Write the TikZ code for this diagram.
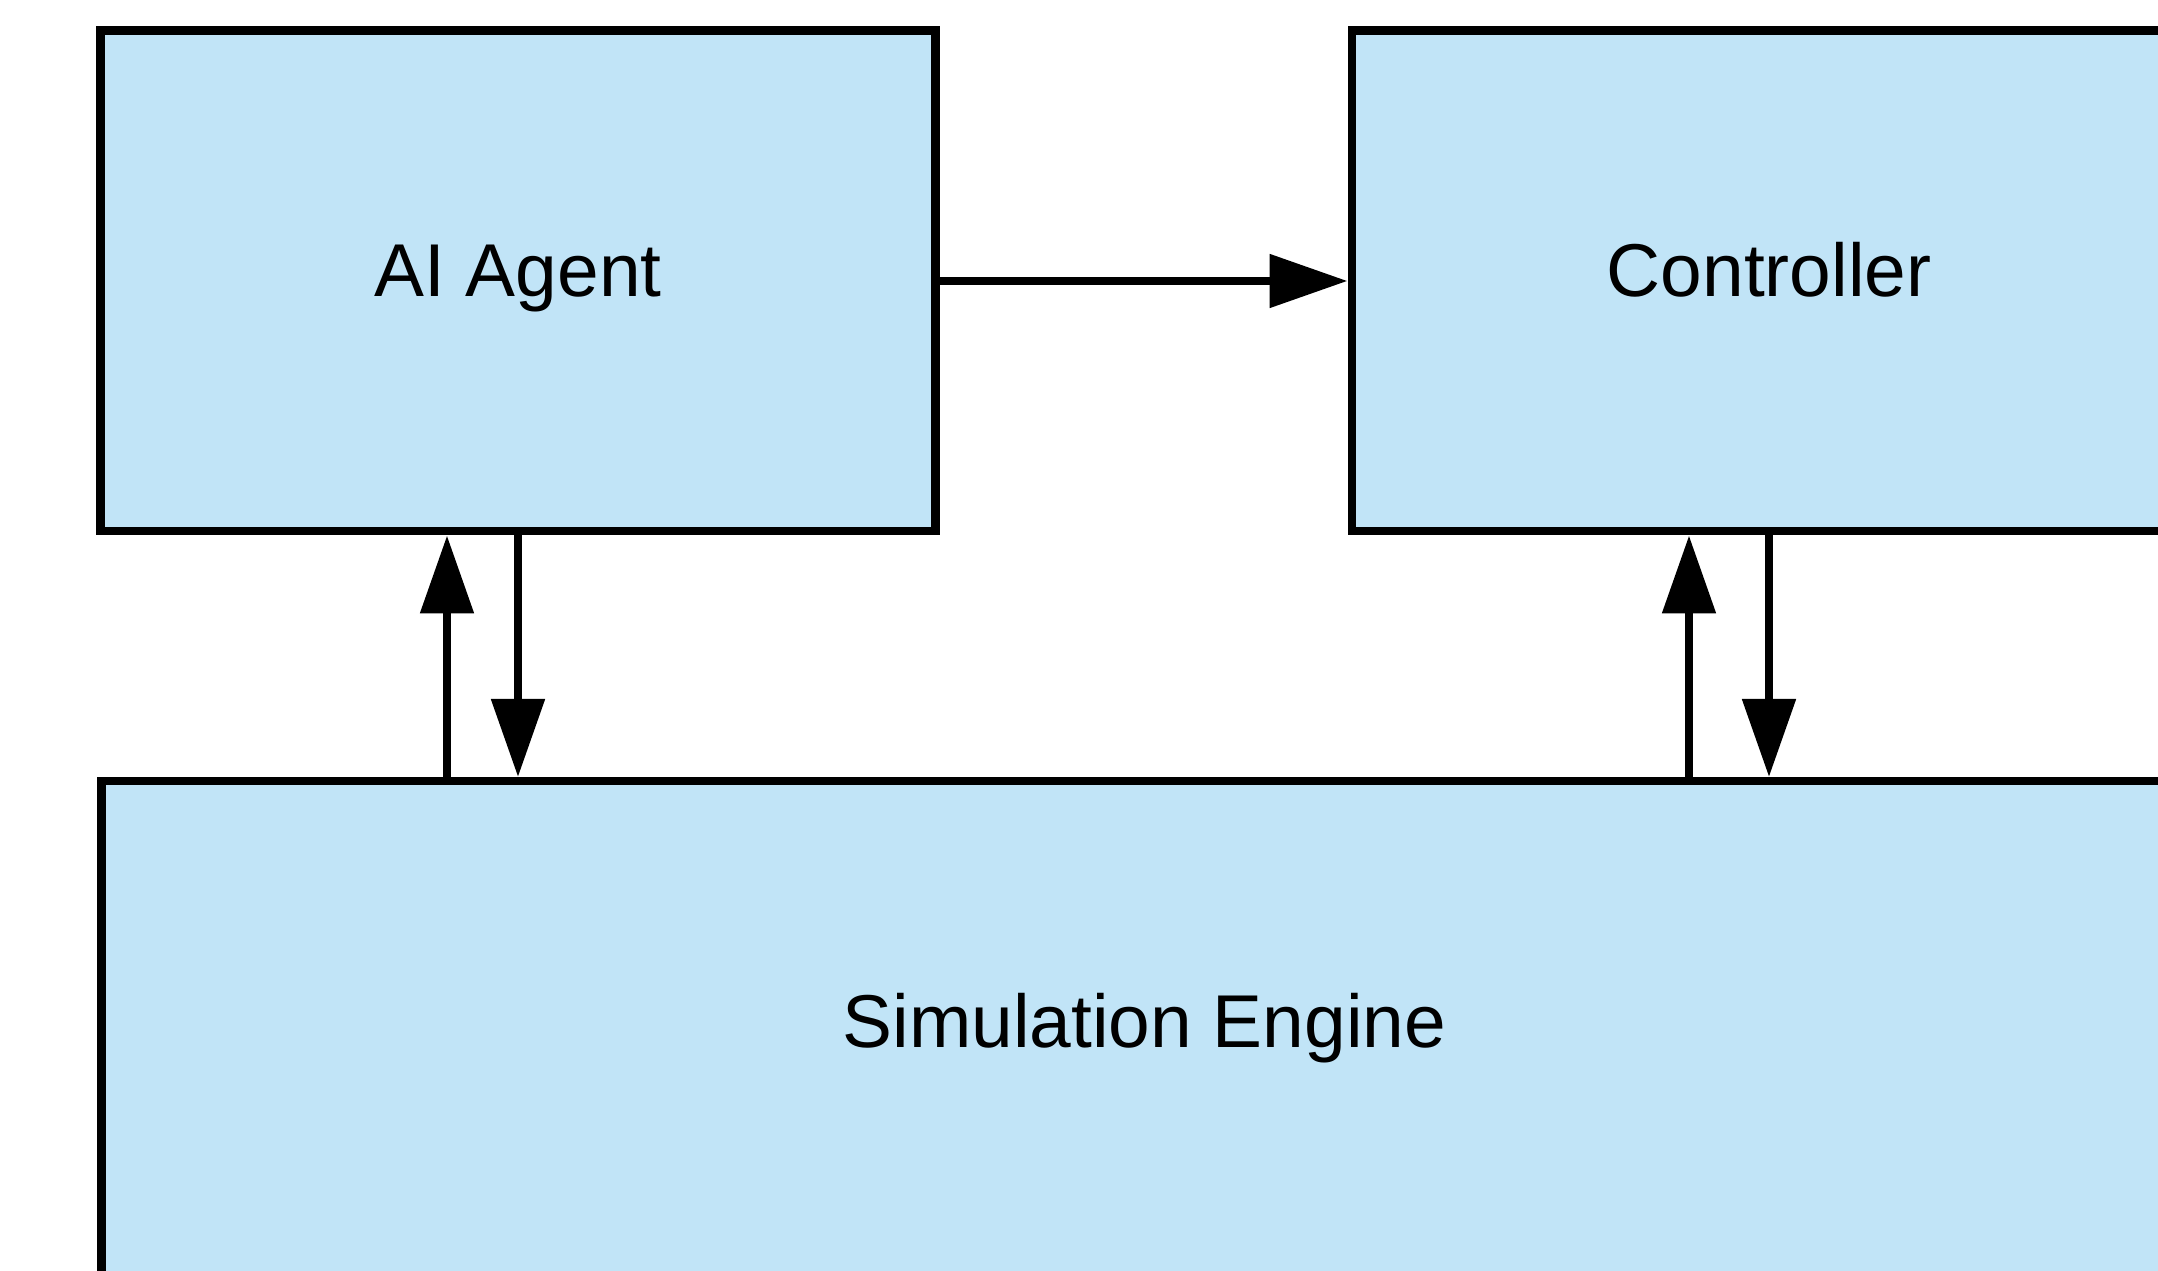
\documentclass[tikz,border=0pt]{standalone}
\usepackage{fontspec}
\setmainfont{Liberation Sans}
\usepackage{tikz}
\usetikzlibrary{arrows.meta,positioning}
\definecolor{boxblue}{RGB}{193,228,247}
\tikzset{
  block/.style={
    draw,
    fill=boxblue,
    line width=0.085cm,
    shape=rectangle,
    inner sep=0pt,
    minimum width=8.345cm,
    minimum height=5.005cm,
    text height=0.32cm,
    text depth=0cm,
    font=\fontsize{21.3pt}{25pt}\selectfont
  },
  flow/.style={
    line width=0.085cm,
    -{Triangle[length=0.78cm,width=0.52cm]}
  }
}

\begin{document}
\begin{tikzpicture}
  \clip (0,0) rectangle (21.58,-12.71);
  \fill[white] (0,0) rectangle (21.58,-12.71);
  \node[block] (ai) at (5.18,-2.81) {AI Agent};
  \node[block, right=4.08cm of ai] (ctrl) {Controller};
  \node[block, minimum width=20.865cm, anchor=north west] (sim) at (0.97,-7.77) {Simulation Engine};
  %% arrows
  \coordinate (aiup) at ([xshift=-0.71cm]ai.south);
  \coordinate (ctrlup) at ([xshift=-0.80cm]ctrl.south);
  \draw[flow] (ai.east) -- (ctrl.west);
  \draw[flow] (aiup |- sim.north) -- (aiup);
  \draw[flow] (ai.south) -- (ai.south |- sim.north);
  \draw[flow] (ctrlup |- sim.north) -- (ctrlup);
  \draw[flow] (ctrl.south) -- (ctrl.south |- sim.north);
\end{tikzpicture}
\end{document}
